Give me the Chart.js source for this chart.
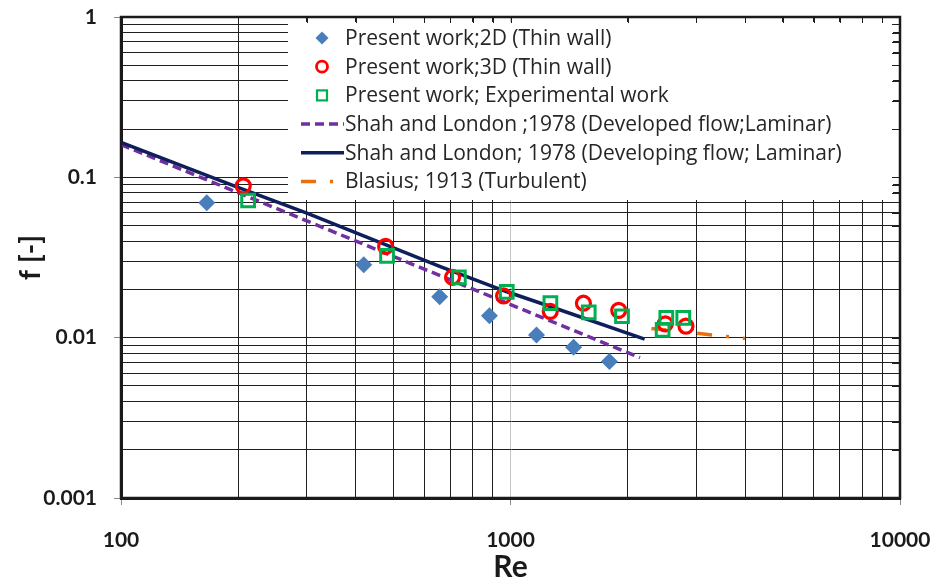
<!DOCTYPE html>
<html>
<head>
<meta charset="utf-8">
<script src="https://cdn.jsdelivr.net/npm/chart.js@4.4.1/dist/chart.umd.min.js"></script>
<style>
  html, body { margin: 0; padding: 0; background: #fff; }
</style>
</head>
<body>
<canvas id="frictionChart" width="939" height="582"></canvas>
<script>
// values (Re, f)
const re2D = [166, 420, 658, 883, 1166, 1452, 1795];
const f2D = [0.0694, 0.0285, 0.0180, 0.0137, 0.0104, 0.0087, 0.0071];

const re3D = [206, 478, 710, 960, 1265, 1539, 1896, 2497, 2821];
const f3D = [0.0885, 0.0371, 0.0238, 0.0182, 0.0146, 0.0164, 0.0148, 0.0122, 0.0118];

const reExp = [212, 482, 737, 978, 1266, 1588, 1933, 2458, 2512, 2777];
const fExp = [0.0717, 0.0324, 0.0238, 0.0193, 0.0164, 0.0144, 0.0136, 0.0112, 0.0133, 0.0133];

const reDeveloped = [100, 2150];
const fDeveloped = [0.160, 0.0075];

const reDeveloping = [100, 202, 300, 658, 975, 1259, 2210];
const fDeveloping = [0.165, 0.0856, 0.0598, 0.0278, 0.0194, 0.0157, 0.0098];

const reBlasius = [2300, 4000];
const fBlasius = [0.0114, 0.0099];

const seriesLabels = [
  'Present work;2D (Thin wall)',
  'Present work;3D (Thin wall)',
  'Present work; Experimental work',
  'Shah and London ;1978 (Developed flow;Laminar)',
  'Shah and London; 1978 (Developing flow; Laminar)',
  'Blasius; 1913 (Turbulent)'
];

// axis ticks
const xMajor = [100, 1000, 10000];
const xTickLabels = ['100', '1000', '10000'];
const yMajor = [0.001, 0.01, 0.1, 1];
const yTickLabels = ['0.001', '0.01', '0.1', '1'];
const mantissas = [1, 2, 3, 4, 5, 6, 7, 8, 9];

function pairs(xs, ys) {
  return xs.map((x, i) => ({ x: x, y: ys[i] }));
}

function decadeTicks(majors) {
  const out = [];
  majors.forEach((m, i) => {
    if (i === majors.length - 1) { out.push(m); return; }
    mantissas.forEach(k => out.push(+(m * k).toPrecision(6)));
  });
  return out;
}

function isMajor(list, v) {
  return list.some(m => Math.abs(m - v) / m < 1e-6);
}

function labelFor(list, labels, v) {
  const i = list.findIndex(m => Math.abs(m - v) / m < 1e-6);
  return i >= 0 ? labels[i] : '';
}

const GRID = '#1f1f1f';

// white legend panel drawn over the grid, plus the inner ticks on the top/right frame
const legendPanel = {
  id: 'legendPanel',
  beforeDatasetsDraw(chart) {
    const { ctx, chartArea, scales } = chart;
    const box = { left: 288, top: chartArea.top + 5, right: chartArea.right - 7, bottom: 200 };
    ctx.save();
    ctx.fillStyle = '#fff';
    ctx.fillRect(box.left, box.top, box.right - box.left, box.bottom - box.top);

    ctx.strokeStyle = GRID;
    ctx.lineWidth = 1;
    ctx.beginPath();
    scales.y.ticks.forEach(t => {
      const y = Math.round(scales.y.getPixelForValue(t.value)) + 0.5;
      ctx.moveTo(chartArea.right - 8, y);
      ctx.lineTo(chartArea.right, y);
    });
    scales.x.ticks.forEach(t => {
      const x = Math.round(scales.x.getPixelForValue(t.value)) + 0.5;
      ctx.moveTo(x, chartArea.top);
      ctx.lineTo(x, chartArea.top + 6);
    });
    ctx.stroke();

    // entries
    ctx.font = '21px "Open Sans"';
    ctx.textBaseline = 'middle';
    ctx.textAlign = 'left';
    chart.data.datasets.forEach((ds, i) => {
      const y = 38 + i * 28.7;
      const cx = 322;
      ctx.save();
      if (ds.showLine) {
        ctx.strokeStyle = ds.borderColor;
        ctx.lineWidth = ds.borderWidth;
        ctx.setLineDash(ds.borderDash || []);
        ctx.beginPath();
        ctx.moveTo(301, y);
        ctx.lineTo(344, y);
        ctx.stroke();
      } else if (ds.pointStyle === 'rectRot') {
        ctx.fillStyle = ds.pointBackgroundColor;
        ctx.beginPath();
        ctx.moveTo(cx - 6.5, y); ctx.lineTo(cx, y - 6.5);
        ctx.lineTo(cx + 6.5, y); ctx.lineTo(cx, y + 6.5);
        ctx.closePath();
        ctx.fill();
      } else if (ds.pointStyle === 'circle') {
        ctx.strokeStyle = ds.pointBorderColor;
        ctx.lineWidth = 2.8;
        ctx.beginPath();
        ctx.arc(cx, y, 5.5, 0, Math.PI * 2);
        ctx.stroke();
      } else {
        ctx.strokeStyle = ds.pointBorderColor;
        ctx.lineWidth = 2.2;
        ctx.strokeRect(cx - 5, y - 5, 10, 10);
      }
      ctx.restore();
      ctx.fillStyle = '#262626';
      ctx.fillText(ds.label, 345, y + 1);
    });
    ctx.restore();
  },
  afterDraw(chart) {
    const { ctx, chartArea } = chart;
    ctx.save();
    ctx.strokeStyle = '#1a1a1a';
    ctx.lineWidth = 2.5;
    ctx.strokeRect(chartArea.left, chartArea.top, chartArea.right - chartArea.left, chartArea.bottom - chartArea.top);
    ctx.restore();
  }
};

function build() {
  const ctx = document.getElementById('frictionChart').getContext('2d');
  new Chart(ctx, {
    type: 'scatter',
    data: {
      datasets: [
        {
          label: seriesLabels[0],
          data: pairs(re2D, f2D),
          pointStyle: 'rectRot',
          pointRadius: 8.5,
          pointBackgroundColor: '#4a7ebb',
          pointBorderColor: '#4a7ebb',
          pointBorderWidth: 0,
          order: 3
        },
        {
          label: seriesLabels[1],
          data: pairs(re3D, f3D),
          pointStyle: 'circle',
          pointRadius: 7,
          pointBackgroundColor: 'rgba(0,0,0,0)',
          pointBorderColor: '#ff0000',
          pointBorderWidth: 3.2,
          order: 2
        },
        {
          label: seriesLabels[2],
          data: pairs(reExp, fExp),
          pointStyle: 'rect',
          pointRadius: 9,
          pointBackgroundColor: 'rgba(0,0,0,0)',
          pointBorderColor: '#00b050',
          pointBorderWidth: 3,
          order: 1
        },
        {
          label: seriesLabels[3],
          data: pairs(reDeveloped, fDeveloped),
          showLine: true,
          borderColor: '#7030a0',
          borderWidth: 3.5,
          borderDash: [9, 5],
          pointRadius: 0,
          order: 12
        },
        {
          label: seriesLabels[4],
          data: pairs(reDeveloping, fDeveloping),
          showLine: true,
          borderColor: '#0f1f5c',
          borderWidth: 3.5,
          pointRadius: 0,
          order: 11
        },
        {
          label: seriesLabels[5],
          data: pairs(reBlasius, fBlasius),
          showLine: true,
          borderColor: '#e8700f',
          borderWidth: 3.5,
          borderDash: [15, 14, 3, 14],
          pointRadius: 0,
          order: 10
        }
      ]
    },
    options: {
      responsive: false,
      animation: false,
      events: [],
      layout: { padding: { left: 8, right: 39, top: 17, bottom: 0 } },
      plugins: {
        legend: { display: false },
        tooltip: { enabled: false }
      },
      scales: {
        x: {
          type: 'logarithmic',
          min: 100,
          max: 10000,
          afterBuildTicks: s => { s.ticks = decadeTicks(xMajor).map(v => ({ value: v })); },
          afterFit: s => { s.height = 84; s.paddingLeft = 0; s.paddingRight = 0; },
          border: { display: true, color: '#1a1a1a', width: 3 },
          grid: {
            color: c => (c.tick && c.tick.value === 1000) ? '#c4c4c4' : GRID,
            lineWidth: 1,
            tickLength: 7,
            tickColor: c => (c.tick && isMajor(xMajor, c.tick.value)) ? '#8a8a8a' : 'rgba(0,0,0,0)'
          },
          ticks: {
            autoSkip: false,
            maxRotation: 0,
            padding: 23,
            color: '#1a1a1a',
            font: { family: 'Lato', weight: 'bold', size: 21 },
            callback: v => labelFor(xMajor, xTickLabels, v)
          },
          title: {
            display: true,
            text: 'Re',
            color: '#1a1a1a',
            font: { family: 'Lato', weight: 'bold', size: 30, lineHeight: 1 },
            padding: { top: 0, bottom: 0 }
          }
        },
        y: {
          type: 'logarithmic',
          min: 0.001,
          max: 1,
          afterBuildTicks: s => { s.ticks = decadeTicks(yMajor).map(v => ({ value: v })); },
          afterFit: s => { s.width = 113; s.paddingTop = 0; s.paddingBottom = 0; },
          border: { display: true, color: '#1a1a1a', width: 3 },
          grid: {
            color: GRID,
            lineWidth: 1,
            tickLength: 7,
            tickColor: c => (c.tick && isMajor(yMajor, c.tick.value)) ? '#8a8a8a' : 'rgba(0,0,0,0)'
          },
          ticks: {
            autoSkip: false,
            padding: 17,
            color: '#1a1a1a',
            font: { family: 'Lato', weight: 'bold', size: 21 },
            callback: v => labelFor(yMajor, yTickLabels, v)
          },
          title: {
            display: true,
            text: 'f [-]',
            color: '#1a1a1a',
            font: { family: 'Lato', weight: 'bold', size: 28 },
            padding: { top: 6, bottom: 0 }
          }
        }
      }
    },
    plugins: [legendPanel]
  });
}

if (document.fonts && document.fonts.load) {
  Promise.all([
    document.fonts.load('bold 21px Lato'),
    document.fonts.load('21px "Open Sans"')
  ]).then(build, build);
} else {
  build();
}
</script>
</body>
</html>
